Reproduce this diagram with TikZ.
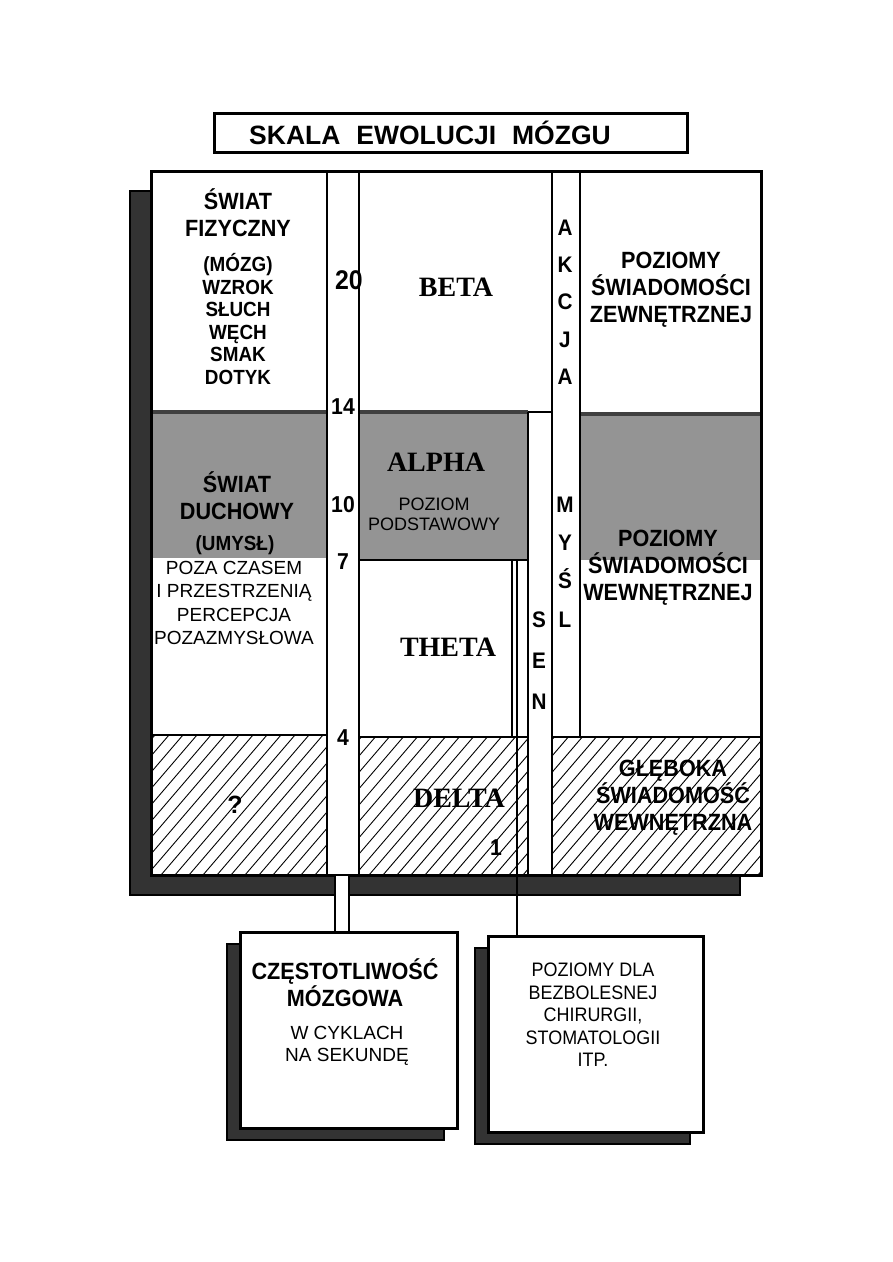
\documentclass[tikz,border=0pt]{standalone}
\usepackage{fontspec}
\setmainfont{Liberation Sans}
\newfontfamily\condf[FakeStretch=0.92]{Liberation Sans}
\newfontfamily\timesf{Liberation Serif}
\usetikzlibrary{shadows}

% diagonal hatching inside a rectangle (x1,y1,x2,y2)
\newcommand{\hatchrect}[4]{%
  \begin{scope}
    \clip (#1,#2) rectangle (#3,#4);
    \foreach \k in {0,...,28}
      \draw[line width=0.9pt] ({#1-130+14*\k},#4) -- ++(120,-140);
  \end{scope}}

\begin{document}
\begin{tikzpicture}[x=1pt,y=-1pt,
  bigbold/.style={align=center, inner sep=0pt, font=\condf\bfseries\fontsize{23.5}{27}\selectfont},
  boldsmall/.style={align=center, inner sep=0pt, font=\condf\bfseries\fontsize{20.5}{22.5}\selectfont},
  regsmall/.style={align=center, inner sep=0pt, font=\fontsize{19}{23.3}\selectfont},
  wavename/.style={inner sep=0pt, font=\timesf\bfseries\fontsize{28}{30}\selectfont},
  hz/.style={inner sep=0pt, font=\condf\bfseries\fontsize{23}{23}\selectfont},
  letters/.style={align=center, inner sep=0pt, font=\condf\bfseries\fontsize{22.5}{#1}\selectfont},
  alphaband/.style={fill=black!42},
  bandedge/.style={line width=4pt, black!75},
  frame/.style={draw, line width=3pt, fill=white, inner sep=0pt},
  divider/.style={line width=2pt},
  scalestrip/.style={draw, double, double distance=12pt, line width=2pt}]

\useasboundingbox (0,0) rectangle (893,1262);

% title
\node[draw, line width=3pt, minimum width=473pt, minimum height=39pt] (titlebox) at (450.5,132.5) {};
\node[inner sep=0pt, font=\bfseries\fontsize{26.5}{28}\selectfont] (title) at (430,133)
  {SKALA\hspace{0.6em}EWOLUCJI\hspace{0.6em}MÓZGU};

% main chart
\node[frame, minimum width=610pt, minimum height=704pt,
      drop shadow={shadow xshift=-21pt, shadow yshift=-20pt, fill=black!80, draw=black, line width=2pt, opacity=1}]
      (chart) at (456,523) {};

\fill[alphaband] (151,410) rectangle (327,558);
\fill[alphaband] (359,410) rectangle (528,560);
\fill[alphaband] (580,412) rectangle (761,560);
\draw[bandedge] (152,412) -- (327,412);
\draw[bandedge] (359,412) -- (528,412);
\draw[bandedge] (580,414) -- (760,414);

\hatchrect{151}{735}{327}{875}
\hatchrect{359}{737}{528}{875}
\hatchrect{552}{737}{761}{875}

\draw[divider] (327,171) -- (327,875);
\draw[divider] (359,171) -- (359,875);
\draw[divider] (552,171) -- (552,875);
\draw[divider] (580,171) -- (580,737);
\draw[divider] (528,412) -- (528,875);
\draw[divider] (528,412) -- (552,412);
\draw[divider] (151,735) -- (327,735);
\draw[divider] (359,737) -- (528,737);
\draw[divider] (552,737) -- (761,737);
\draw[divider] (512,560) -- (512,737);
\draw[line width=1.2pt] (359,560) -- (528,560);
\draw[line width=3pt] (151,171) rectangle (761,875);

% left column
\node[bigbold] (fizyczny) at (238,213) {ŚWIAT\\FIZYCZNY};
\node[boldsmall] (zmysly) at (238,319) {(MÓZG)\\WZROK\\SŁUCH\\WĘCH\\SMAK\\DOTYK};
\node[bigbold] (duchowy) at (237,496) {ŚWIAT\\DUCHOWY};
\node[boldsmall] (umysl) at (235,545) {(UMYSŁ)};
\node[regsmall] (poza) at (234,603) {POZA CZASEM\\I PRZESTRZENIĄ\\PERCEPCJA\\POZAZMYSŁOWA};
\node[inner sep=0pt, font=\bfseries\fontsize{25}{25}\selectfont] (pytanie) at (235,805) {?};

% frequency scale
\node[hz, font=\condf\bfseries\fontsize{27}{27}\selectfont] (hz20) at (349,280) {20};
\node[hz] (hz14) at (343,407) {14};
\node[hz] (hz10) at (343,505) {10};
\node[hz] (hz7) at (343,562) {7};
\node[hz] (hz4) at (343,738) {4};
\node[hz] (hz1) at (496,848) {1};

% waves
\node[wavename] (beta) at (456,287) {BETA};
\node[wavename] (alpha) at (436,462) {ALPHA};
\node[align=center, inner sep=0pt, font=\fontsize{18}{20}\selectfont] (podst) at (434,514) {POZIOM\\PODSTAWOWY};
\node[wavename] (theta) at (448,647) {THETA};
\node[wavename] (delta) at (459,798) {DELTA};

% vertical words
\node[letters=37.3] (akcja) at (565,302) {A\\K\\C\\J\\A};
\node[letters=38.3] (mysl) at (565,562) {M\\Y\\Ś\\L};
\node[letters=41] (sen) at (539,661) {S\\E\\N};

% right column
\node[bigbold] (zewn) at (671,290) {POZIOMY\\ŚWIADOMOŚCI\\ZEWNĘTRZNEJ};
\node[bigbold] (wewn) at (668,568) {POZIOMY\\ŚWIADOMOŚCI\\WEWNĘTRZNEJ};
\node[bigbold] (gleb) at (673,798) {GŁĘBOKA\\ŚWIADOMOŚĆ\\WEWNĘTRZNA};

% boxes below
\node[frame, minimum width=217pt, minimum height=196pt,
      drop shadow={shadow xshift=-13pt, shadow yshift=-12pt, fill=black!80, draw=black, line width=2pt, opacity=1}]
      (freqbox) at (348.5,1030) {};
\node[frame, minimum width=215pt, minimum height=196pt,
      drop shadow={shadow xshift=-13pt, shadow yshift=-12pt, fill=black!80, draw=black, line width=2pt, opacity=1}]
      (chirbox) at (595.5,1034) {};

\node[bigbold] (freqtxt) at (345,983) {CZĘSTOTLIWOŚĆ\\MÓZGOWA};
\node[regsmall, font=\fontsize{19}{22}\selectfont] (cykle) at (347,1046) {W CYKLACH\\NA SEKUNDĘ};
\node[align=center, inner sep=0pt, font=\condf\fontsize{19.5}{22.5}\selectfont] (chirtxt) at (593,1015)
  {POZIOMY DLA\\BEZBOLESNEJ\\CHIRURGII,\\STOMATOLOGII\\ITP.};

% connectors
\coordinate (scalefoot) at (342,876);
\coordinate (thetaline) at (517,560);
\draw[scalestrip] (scalefoot) -- (scalefoot |- freqbox.north);
\draw[line width=1.5pt] (thetaline) -- (thetaline |- chirbox.north);

\end{tikzpicture}
\end{document}
